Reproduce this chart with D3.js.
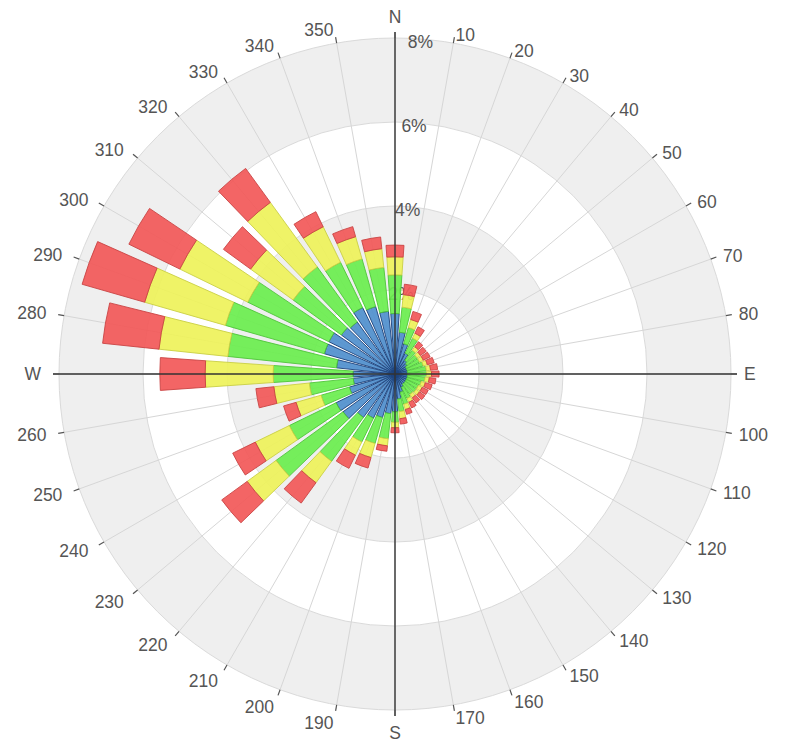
<!DOCTYPE html>
<html lang="en">
  <head>
    <meta charset="utf-8" />
    <script src="https://cdn.jsdelivr.net/npm/d3@7"></script>
    <style>
      body {
        margin: 0;
        background: #fff;
        font-family: 'Liberation Sans', Arial, sans-serif;
      }
      .dir-label {
        font-size: 17.5px;
        fill: #555;
      }
      .pct-label {
        font-size: 17.5px;
        fill: #555;
      }
    </style>
  </head>
  <body>
    <div id="plot-container"></div>

    <script type="text/javascript">
      // data //---------------------------------------------------------

      // compass directions of the bars (degrees)
      var directions = [
        0, 10, 20, 30, 40, 50, 60, 70, 80, 90, 100, 110, 120, 130, 140, 150,
        160, 170, 180, 190, 200, 210, 220, 230, 240, 250, 260, 270, 280, 290,
        300, 310, 320, 330, 340, 350,
      ];

      // labels around the circle
      var direction_labels = [
        'N', '10', '20', '30', '40', '50', '60', '70', '80', 'E', '100', '110',
        '120', '130', '140', '150', '160', '170', 'S', '190', '200', '210',
        '220', '230', '240', '250', '260', 'W', '280', '290', '300', '310',
        '320', '330', '340', '350',
      ];

      // frequency (%) of each speed class, stacked from centre outwards
      var blue = [
        1.44, 1.0, 0.75, 0.55, 0.4, 0.35, 0.3, 0.3, 0.3, 0.3, 0.3, 0.3, 0.3,
        0.3, 0.3, 0.35, 0.45, 0.6, 0.9, 0.95, 1.08, 1.17, 1.28, 1.53, 1.56,
        1.13, 1.0, 1.0, 1.4, 1.75, 1.75, 1.58, 1.53, 1.76, 1.67, 1.5,
      ];
      var green = [
        0.92, 0.6, 0.4, 0.4, 0.3, 0.3, 0.35, 0.4, 0.45, 0.45, 0.42, 0.35, 0.32,
        0.32, 0.3, 0.3, 0.3, 0.3, 0.25, 0.6, 0.64, 0.63, 1.29, 1.97, 1.24, 0.7,
        1.05, 1.9, 2.6, 2.45, 2.15, 1.42, 1.62, 1.2, 1.18, 1.05,
      ];
      var yellow = [
        0.43, 0.3, 0.2, 0.13, 0.1, 0.1, 0.1, 0.1, 0.1, 0.12, 0.1, 0.1, 0.1,
        0.1, 0.1, 0.1, 0.13, 0.17, 0.13, 0.17, 0.35, 0.35, 0.63, 0.85, 0.9,
        0.62, 0.85, 1.62, 1.65, 2.0, 1.8, 1.25, 1.9, 0.94, 0.55, 0.45,
      ];
      var red = [
        0.28, 0.25, 0.2, 0.17, 0.15, 0.17, 0.18, 0.17, 0.17, 0.18, 0.16, 0.17,
        0.16, 0.16, 0.15, 0.15, 0.12, 0.13, 0.12, 0.13, 0.26, 0.35, 0.6, 0.75,
        0.6, 0.31, 0.43, 1.08, 1.35, 1.55, 1.35, 0.8, 1.0, 0.4, 0.25, 0.28,
      ];

      // radial axis ticks (%)
      var radial_ticks = [2, 4, 6, 8];

      // constants //----------------------------------------------------

      var container_dimensions = { width: 788, height: 743 };
      var center = { x: 395, y: 374 };
      var outer_radius = 336;
      var bar_half_width = 4; // degrees

      var series_keys = ['blue', 'green', 'yellow', 'red'];
      var series_fill = {
        blue: '#4f8fcd',
        green: '#6aee4e',
        yellow: '#eef25a',
        red: '#f25858',
      };
      var series_stroke = {
        blue: '#1a3f7a',
        green: '#4fc43a',
        yellow: '#c9cf45',
        red: '#c94444',
      };

      function rad(deg) {
        return (deg * Math.PI) / 180;
      }

      var scale_r = d3
        .scaleLinear()
        .domain([0, d3.max(radial_ticks)])
        .range([0, outer_radius]);

      // plot //---------------------------------------------------------

      var svg = d3
        .select('#plot-container')
        .append('svg')
        .attr('width', container_dimensions.width)
        .attr('height', container_dimensions.height);

      var plot = svg
        .append('g')
        .attr('transform', `translate(${center.x}, ${center.y})`);

      // alternating background bands
      var band_edges = d3.pairs([0].concat(radial_ticks));
      plot
        .append('g')
        .selectAll('path')
        .data(band_edges)
        .join('path')
        .attr('d', (d) =>
          d3.arc()({
            innerRadius: scale_r(d[0]),
            outerRadius: scale_r(d[1]),
            startAngle: 0,
            endAngle: 2 * Math.PI,
          })
        )
        .attr('fill', (d, i) => (i % 2 ? '#efefef' : '#ffffff'));

      // ring lines
      plot
        .append('g')
        .selectAll('circle')
        .data(radial_ticks)
        .join('circle')
        .attr('r', (d) => scale_r(d))
        .attr('fill', 'none')
        .attr('stroke', '#dadada')
        .attr('stroke-width', 1);

      // radial grid lines
      plot
        .append('g')
        .selectAll('line')
        .data(directions)
        .join('line')
        .attr('x1', 0)
        .attr('y1', 0)
        .attr('x2', (d) => Math.sin(rad(d)) * outer_radius)
        .attr('y2', (d) => -Math.cos(rad(d)) * outer_radius)
        .attr('stroke', '#d6d6d6')
        .attr('stroke-width', 1);

      // percent labels along north axis (drawn below the bars)
      plot
        .append('g')
        .selectAll('text')
        .data(radial_ticks)
        .join('text')
        .attr('class', 'pct-label')
        .attr('x', (d) => -13 + scale_r(d) * 0.077)
        .attr('y', (d) => -scale_r(d) + 4)
        .attr('dominant-baseline', 'central')
        .text((d) => d + '%');

      // stacked bars
      var rows = directions.map((d, i) => ({
        dir: d,
        blue: blue[i],
        green: green[i],
        yellow: yellow[i],
        red: red[i],
      }));
      var stacked = d3.stack().keys(series_keys)(rows);

      var bar_arc = d3
        .arc()
        .innerRadius((d) => scale_r(d[0]))
        .outerRadius((d) => scale_r(d[1]))
        .startAngle((d) => rad(d.data.dir - bar_half_width))
        .endAngle((d) => rad(d.data.dir + bar_half_width));

      plot
        .append('g')
        .attr('class', 'bars')
        .selectAll('g')
        .data(stacked)
        .join('g')
        .attr('fill', (s) => series_fill[s.key])
        .attr('stroke', (s) => series_stroke[s.key])
        .attr('fill-opacity', 0.92)
        .attr('stroke-width', 0.9)
        .selectAll('path')
        .data((s) => s)
        .join('path')
        .attr('d', bar_arc);

      // main compass axes
      [0, 90].forEach(function (a) {
        var len = outer_radius + 6;
        plot
          .append('line')
          .attr('x1', -Math.sin(rad(a)) * len)
          .attr('y1', Math.cos(rad(a)) * len)
          .attr('x2', Math.sin(rad(a)) * len)
          .attr('y2', -Math.cos(rad(a)) * len)
          .attr('stroke', '#333')
          .attr('stroke-width', 1.4);
      });

      // tick marks outside the circle
      plot
        .append('g')
        .selectAll('line')
        .data(directions)
        .join('line')
        .attr('x1', (d) => Math.sin(rad(d)) * outer_radius)
        .attr('y1', (d) => -Math.cos(rad(d)) * outer_radius)
        .attr('x2', (d) => Math.sin(rad(d)) * (outer_radius + 6))
        .attr('y2', (d) => -Math.cos(rad(d)) * (outer_radius + 6))
        .attr('stroke', '#555')
        .attr('stroke-width', 1.2);

      // direction labels
      plot
        .append('g')
        .selectAll('text')
        .data(directions)
        .join('text')
        .attr('class', 'dir-label')
        .each(function (d, i) {
          var s = Math.sin(rad(d)),
            c = Math.cos(rad(d));
          var anchor = s > 0.05 ? 'start' : s < -0.05 ? 'end' : 'middle';
          var dist = anchor === 'middle' ? 358 : anchor === 'start' ? 349 : 354;
          var shift = anchor === 'middle' ? 1 : c > 0 ? 5 * c : 0;
          d3.select(this)
            .attr('x', s * dist)
            .attr('y', -c * dist + shift)
            .attr('text-anchor', anchor)
            .attr('dominant-baseline', 'central')
            .text(direction_labels[i]);
        });
    </script>
  </body>
</html>
